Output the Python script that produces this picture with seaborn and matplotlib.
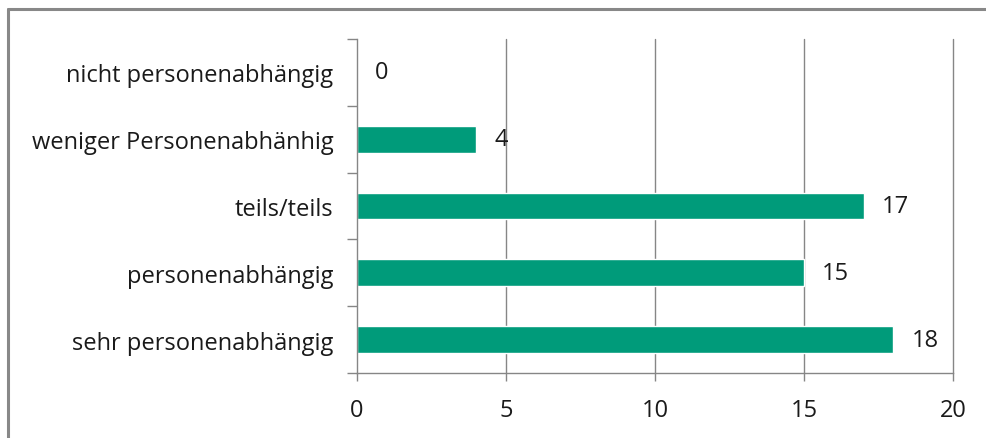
import matplotlib
matplotlib.use("Agg")
import matplotlib.pyplot as plt
import seaborn as sns
import pandas as pd
import numpy as np
from matplotlib.lines import Line2D

categories = ["nicht personenabhängig", "weniger Personenabhänhig", "teils/teils",
              "personenabhängig", "sehr personenabhängig"]
values = [0, 4, 17, 15, 18]
xticks = [0, 5, 10, 15, 20]

sns.set_style("white")
plt.rcParams['font.family'] = ['Open Sans', 'DejaVu Sans']

df = pd.DataFrame({"cat": categories, "val": values})

fig = plt.figure(figsize=(9.87, 4.39), dpi=100)
ax = fig.add_axes([0.3617, 0.1481, 0.9655 - 0.3617, 0.9089 - 0.1481])

sns.barplot(data=df, y="cat", x="val", color="#009B7A", width=0.4, ax=ax,
            saturation=1, orient="h")

gc = "#868686"
fs = 17
ax.set_xlim(0, 20)
ax.set_ylim(len(categories) - 0.5, -0.5)
ax.set_xticks(xticks)
ax.set_xticklabels([str(t) for t in xticks], fontsize=fs, color="#1a1a1a")
ax.set_yticks(range(len(categories)))
ax.set_yticklabels(categories, fontsize=fs, color="#1a1a1a")
ax.set_yticks(np.arange(-0.5, len(categories), 1), minor=True)
ax.tick_params(axis="y", which="major", length=0, pad=17, left=True)
ax.tick_params(axis="y", which="minor", length=7, width=1, color=gc, direction="out", left=True)
ax.tick_params(axis="x", which="major", length=6, width=1, color=gc, direction="out", pad=12, bottom=True)
ax.set_xlabel("")
ax.set_ylabel("")
for t in xticks[1:]:
    ax.axvline(t, color=gc, lw=1, zorder=0, clip_on=False)
for s in ["top", "right"]:
    ax.spines[s].set_visible(False)
for s in ["left", "bottom"]:
    ax.spines[s].set_color(gc)
    ax.spines[s].set_linewidth(1)

for c in ax.containers:
    ax.bar_label(c, labels=[str(v) for v in values], padding=13, fontsize=fs, color="#1a1a1a")

# outer frame (top and left visible)
fig.add_artist(Line2D([8/987, 1.0], [1 - 10/439, 1 - 10/439], transform=fig.transFigure,
                      color="#888888", lw=2.2))
fig.add_artist(Line2D([8/987, 8/987], [0, 1 - 10/439], transform=fig.transFigure,
                      color="#888888", lw=2.2))

fig.savefig("out.png", dpi=100)
